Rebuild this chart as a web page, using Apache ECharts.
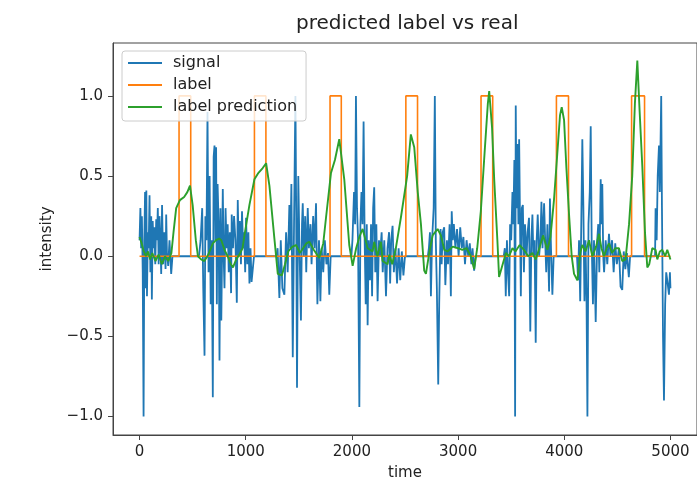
<!DOCTYPE html>
<html lang="en">
<head>
    <meta charset="UTF-8">
    <title>predicted label vs real</title>
    <script src="https://cdn.jsdelivr.net/npm/echarts@6/dist/echarts.min.js"></script>
    <style>
        html, body { margin: 0; padding: 0; background: #fff; }
        #main { width: 697px; height: 486px; }
    </style>
</head>
<body>
    <div id="main"></div>
    <script>
        // tick labels
        var xTicks = [0, 1000, 2000, 3000, 4000, 5000];
        var yTicks = [-1.0, -0.5, 0.0, 0.5, 1.0];

        // label pulses (start / end time), value 1 inside, 0 elsewhere
        var labelOn  = [372, 1082, 1794, 2508, 3216, 3926, 4634];
        var labelOff = [482, 1190, 1900, 2618, 3326, 4040, 4756];

        // signal as [time, intensity]
        var signal = [
            [0,0.1],[8,0.3],[15,0.05],[22,0.25],[30,-0.1],[38,-1.0],[45,0.1],[52,0.4],[58,-0.2],[64,0.41],
            [70,-0.25],[78,0.15],[86,0.05],[94,0.38],[102,-0.1],[110,0.25],[116,-0.27],[124,0.22],[132,0.05],[140,0.18],
            [148,-0.05],[157,0.23],[164,0.1],[172,0.3],[180,-0.05],[188,0.25],[196,0.1],[204,-0.11],[212,0.32],[222,-0.05],
            [232,0.15],[245,-0.08],[251,0.26],[258,0.02],[270,-0.06],[282,0.1],[298,-0.11],[310,0.0],[330,0],[560,0],
            [575,0.1],[590,0.3],[600,-0.2],[612,-0.62],[620,0.25],[630,0.1],[640,0.9],[650,-0.1],[660,0.5],[670,-0.3],
            [680,0.1],[690,-0.88],[698,0.62],[706,0.69],[715,0.1],[721,0.68],[728,-0.3],[735,0.45],[745,0.2],[753,-0.65],
            [762,0.3],[770,-0.4],[784,0.42],[792,0.0],[800,-0.2],[810,0.3],[820,0.05],[830,0.2],[840,-0.1],[850,0.15],
            [862,-0.23],[868,0.26],[880,0.05],[890,0.25],[903,0.1],[916,-0.29],[925,0.35],[935,0.0],[945,0.22],[955,-0.05],
            [965,0.28],[975,0.05],[985,0.15],[995,-0.1],[1003,0.24],[1015,-0.05],[1025,0.15],[1035,-0.17],[1045,0.05],[1055,-0.16],
            [1066,-0.16],[1078,0],[1290,0],
            [1300,0.05],[1317,-0.26],[1330,0.1],[1345,-0.2],[1364,-0.24],[1380,0.15],[1395,-0.1],[1411,0.32],[1420,0.05],[1430,0.45],
            [1443,-0.63],[1455,0.2],[1468,1.0],[1475,0.3],[1483,-0.82],[1495,0.5],[1505,0.1],[1520,-0.4],[1530,0.2],[1537,0.33],
            [1548,0.0],[1560,0.25],[1570,-0.1],[1584,0.3],[1595,0.05],[1610,0.2],[1620,-0.05],[1635,0.25],[1648,0.05],[1662,0.33],
            [1675,-0.3],[1690,0.1],[1703,-0.28],[1715,0.05],[1730,-0.1],[1745,0.1],[1760,-0.05],[1775,0.02],[1787,-0.24],[1800,0],
            [1995,0],
            [2005,0.1],[2020,0.4],[2030,0.2],[2038,1.0],[2048,0.3],[2058,0.1],[2070,-0.94],[2080,0.2],[2090,0.4],[2100,0.2],
            [2110,0.84],[2120,0.1],[2130,-0.3],[2140,0.2],[2148,-0.43],[2158,0.1],[2170,-0.15],[2180,0.2],[2190,-0.25],[2200,0.3],
            [2210,0.43],[2220,-0.1],[2230,0.2],[2242,-0.28],[2255,0.1],[2265,0.0],[2280,0.15],[2290,-0.1],[2305,0.1],[2321,-0.25],
            [2335,0.05],[2350,0.15],[2360,-0.17],[2370,0.1],[2383,0.19],[2395,-0.1],[2410,0.05],[2425,-0.17],[2440,0.05],[2455,-0.15],
            [2470,0.03],[2485,-0.12],[2500,0],[2715,0],
            [2725,0.05],[2735,0.15],[2744,-0.25],[2755,0.1],[2770,0.3],[2781,1.0],[2790,0.1],[2800,-0.2],[2813,-0.8],[2822,-0.3],
            [2835,0.17],[2845,-0.05],[2855,0.15],[2869,0.18],[2880,-0.18],[2895,0.1],[2905,-0.05],[2920,0.2],[2932,-0.25],[2940,0.28],
            [2950,0.1],[2960,0.2],[2975,0.05],[2990,0.17],[3005,0.0],[3020,0.18],[3035,0.05],[3050,0.12],[3065,-0.05],[3080,0.1],
            [3095,0.0],[3110,0.08],[3125,-0.05],[3136,0.05],[3151,-0.09],[3165,0],[3430,0],
            [3440,0.05],[3449,-0.25],[3460,0.1],[3470,-0.1],[3481,-0.25],[3490,0.2],[3500,0.1],[3512,0.4],[3520,0.2],[3530,0.6],
            [3537,-1.0],[3543,0.94],[3550,0.3],[3560,0.7],[3568,0.2],[3575,0.73],[3585,0.1],[3591,-0.25],[3600,0.3],[3610,0.32],
            [3620,-0.1],[3630,0.2],[3645,0.0],[3655,0.15],[3668,0.24],[3680,-0.47],[3690,0.1],[3700,0.26],[3709,0.0],[3720,0.1],
            [3731,-0.54],[3740,0.1],[3750,0.26],[3763,0.0],[3775,0.1],[3785,0.34],[3795,0.05],[3810,0.33],[3820,0.1],[3830,-0.1],
            [3841,0.2],[3857,-0.22],[3865,0.36],[3875,0.05],[3888,-0.24],[3900,0.0],[4120,0],
            [4130,-0.15],[4139,0.1],[4150,-0.28],[4160,0.2],[4170,0.73],[4180,0.3],[4190,-0.28],[4200,0.1],[4210,-0.3],[4218,-1.0],
            [4228,0.2],[4240,0.4],[4249,0.81],[4258,0.1],[4270,-0.3],[4280,0.1],[4296,-0.41],[4310,0.1],[4320,0.2],[4330,-0.1],
            [4343,0.48],[4350,0.2],[4358,0.45],[4367,0.0],[4375,-0.1],[4390,0.1],[4405,-0.05],[4421,0.14],[4435,0.0],[4450,0.1],
            [4465,-0.1],[4480,0.08],[4495,-0.05],[4515,0.05],[4530,-0.19],[4546,-0.21],[4560,0.03],[4575,-0.08],[4590,0.02],[4608,-0.13],
            [4620,0],[4855,0],
            [4860,0.3],[4870,0.1],[4880,0.5],[4892,0.69],[4900,0.4],[4913,1.0],[4920,0.3],[4930,-0.5],[4939,-0.9],[4950,-0.3],
            [4960,-0.1],[4970,-0.15],[4986,-0.24],[4995,-0.1],[5000,-0.2]
        ];

        // label prediction as [time, value]
        var prediction = [
            [0,0.12],[20,0.08],[40,0.03],[60,0.0],[80,0.03],[100,-0.02],[120,0.02],[150,-0.03],[180,0.01],[210,-0.05],
            [240,0.0],[270,-0.03],[300,0.02],[320,0.15],[345,0.3],[380,0.35],[420,0.37],[450,0.4],[475,0.44],[500,0.32],
            [530,0.1],[550,0.0],[580,-0.02],[610,-0.03],[640,0.0],[660,0.03],[690,0.08],[720,0.1],[750,0.11],[770,0.1],
            [800,0.04],[830,0.0],[860,-0.05],[880,-0.07],[910,-0.02],[940,0.01],[970,0.05],[988,0.13],[1035,0.32],[1082,0.48],
            [1120,0.52],[1160,0.55],[1192,0.58],[1223,0.44],[1270,0.11],[1302,-0.11],[1340,-0.12],[1370,-0.05],[1400,0.03],[1440,0.06],
            [1474,0.07],[1510,0.02],[1540,0.05],[1570,0.08],[1599,0.09],[1640,0.04],[1693,-0.01],[1730,0.08],[1756,0.24],[1803,0.52],
            [1840,0.6],[1881,0.73],[1928,0.48],[1975,0.07],[2007,-0.06],[2040,0.05],[2070,0.12],[2101,0.17],[2148,0.05],[2195,0.03],
            [2210,0.09],[2240,0.0],[2273,0.09],[2289,-0.03],[2336,-0.05],[2352,0.01],[2380,-0.05],[2414,0.05],[2461,0.24],[2520,0.5],
            [2555,0.76],[2587,0.68],[2620,0.4],[2650,0.2],[2681,-0.09],[2697,-0.11],[2728,0.02],[2760,0.13],[2807,0.17],[2838,0.13],
            [2870,0.04],[2900,0.03],[2950,0.06],[3000,0.05],[3040,0.04],[3080,0.05],[3120,0.0],[3151,-0.08],[3180,0.05],[3214,0.28],
            [3250,0.65],[3280,0.95],[3293,1.03],[3320,0.8],[3340,0.48],[3370,0.1],[3386,-0.13],[3420,-0.05],[3450,0.02],[3480,0.0],
            [3512,0.05],[3540,0.03],[3580,0.07],[3620,0.04],[3660,0.0],[3700,0.02],[3731,-0.02],[3770,0.06],[3800,0.13],[3841,0.04],
            [3870,0.12],[3903,0.35],[3930,0.6],[3960,0.88],[3976,0.93],[3998,0.85],[4020,0.55],[4045,0.26],[4070,0.0],[4092,-0.11],
            [4123,-0.15],[4150,0.02],[4170,0.07],[4200,0.03],[4233,0.1],[4264,0.0],[4300,0.06],[4327,0.14],[4350,0.05],[4374,0.0],
            [4400,0.05],[4421,0.08],[4450,0.02],[4480,0.05],[4515,0.05],[4546,-0.03],[4577,-0.02],[4610,0.2],[4640,0.5],[4665,0.95],
            [4688,1.22],[4710,0.9],[4735,0.56],[4760,0.15],[4782,-0.07],[4800,-0.05],[4829,0.05],[4860,0.04],[4876,-0.02],[4900,0.03],
            [4923,0.04],[4950,0.0],[4970,0.04],[5000,-0.02]
        ];

        // step line for the label from the pulse arrays
        var label = [[0, 0]];
        for (var i = 0; i < labelOn.length; i++) {
            label.push([labelOn[i], 0], [labelOn[i], 1], [labelOff[i], 1], [labelOff[i], 0]);
        }
        label.push([5000, 0]);

        var font = 'DejaVu Sans';
        var axisColor = '#444';
        var textColor = '#222';

        var chart = echarts.init(document.getElementById('main'));
        chart.setOption({
            animation: false,
            backgroundColor: '#fff',
            title: {
                text: 'predicted label vs real',
                left: 296,
                top: 14,
                padding: 0,
                textStyle: { fontFamily: font, fontSize: 20, fontWeight: 'normal', color: textColor }
            },
            legend: {
                orient: 'vertical',
                left: 122,
                top: 51,
                padding: [4, 9, 6, 6],
                itemGap: 6,
                itemWidth: 34,
                itemHeight: 2,
                icon: 'rect',
                backgroundColor: 'rgba(255,255,255,0.8)',
                borderColor: '#ccc',
                borderWidth: 1,
                borderRadius: 3,
                textStyle: { fontFamily: font, fontSize: 16, color: textColor, padding: [0, 0, 0, 6], lineHeight: 16 },
                data: ['signal', 'label', 'label prediction']
            },
            grid: {
                left: 113,
                right: 0,
                top: 43,
                bottom: 46,
                show: true,
                borderColor: axisColor,
                borderWidth: 1
            },
            xAxis: {
                type: 'value',
                min: -250,
                max: 5250,
                name: 'time',
                nameLocation: 'middle',
                nameGap: 31,
                nameTextStyle: { fontFamily: font, fontSize: 15, color: textColor },
                axisLine: { onZero: false, lineStyle: { color: axisColor } },
                axisTick: { show: true, length: 5, lineStyle: { color: axisColor }, customValues: xTicks },
                axisLabel: {
                    customValues: xTicks, fontFamily: font, fontSize: 15, color: textColor, margin: 10,
                    formatter: function (v) { return String(v); }
                },
                splitLine: { show: false }
            },
            yAxis: {
                type: 'value',
                min: -1.115,
                max: 1.33,
                name: 'intensity',
                nameLocation: 'middle',
                nameGap: 58,
                nameRotate: 90,
                nameTextStyle: { fontFamily: font, fontSize: 15, color: textColor },
                axisLine: { show: true, onZero: false, lineStyle: { color: axisColor } },
                axisTick: { show: true, length: 5, lineStyle: { color: axisColor }, customValues: yTicks },
                axisLabel: {
                    customValues: yTicks,
                    fontFamily: font, fontSize: 15, color: textColor, margin: 10,
                    formatter: function (v) { return (v < 0 ? '\u2212' : '') + Math.abs(v).toFixed(1); }
                },
                splitLine: { show: false }
            },
            series: [
                { name: 'signal', type: 'line', data: signal, symbol: 'none',
                  lineStyle: { width: 1.8, color: '#1f77b4' }, itemStyle: { color: '#1f77b4' } },
                { name: 'label', type: 'line', data: label, symbol: 'none',
                  lineStyle: { width: 1.6, color: '#ff7f0e' }, itemStyle: { color: '#ff7f0e' } },
                { name: 'label prediction', type: 'line', data: prediction, symbol: 'none',
                  lineStyle: { width: 1.9, color: '#2ca02c' }, itemStyle: { color: '#2ca02c' } }
            ]
        });
    </script>
</body>
</html>
